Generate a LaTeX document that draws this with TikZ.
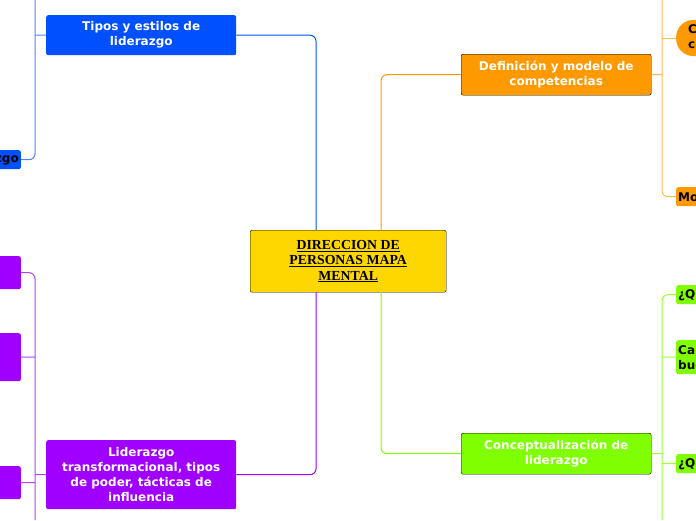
\documentclass[tikz,border=0pt]{standalone}
\usepackage{fontspec}
\usetikzlibrary{shapes.geometric}
\setmainfont{DejaVu Sans}
\newfontfamily\serifc{Liberation Serif}
\newcommand{\myul}[1]{$\underline{\hbox{#1}}$}
\begin{document}
\begin{tikzpicture}[x=1pt,y=-1pt,
 box/.style={rounded corners=2pt,font=\bfseries\fontsize{12}{15}\selectfont,align=center,inner sep=0pt,anchor=north west},
 con/.style={line width=1pt,rounded corners=6pt}]
\useasboundingbox (0,0) rectangle (696,520);
\definecolor{cb}{HTML}{0050FF}\definecolor{cp}{HTML}{A000FF}
\definecolor{co}{HTML}{FF9900}\definecolor{cg}{HTML}{80FF00}
\definecolor{cy}{HTML}{FFD700}
\coordinate (ct) at (316,230); \coordinate (cbt) at (316,292);
\coordinate (crt) at (381,230); \coordinate (crb) at (381,292);
% center
\node[draw=black,fill=cy,rounded corners=2pt,minimum width=196pt,minimum height=62pt,anchor=north west,align=center,inner sep=0pt,font=\serifc\bfseries\fontsize{13.8}{15.5}\selectfont] (c) at (250,230) {\myul{DIRECCION DE}\\\myul{PERSONAS MAPA}\\\myul{MENTAL}};
% main nodes
\node[box,fill=cb,text=white,minimum width=190pt,minimum height=40pt] (t) at (46,15) {Tipos y estilos de\\liderazgo};
\node[box,fill=cp,text=white,minimum width=190pt,minimum height=69pt] (l) at (46,440) {Liderazgo\\transformacional, tipos\\de poder, tácticas de\\influencia};
\node[box,draw=black,fill=co,text=white,minimum width=190pt,minimum height=41pt] (d) at (461,54) {Definición y modelo de\\competencias};
\node[box,draw=black,fill=cg,text=white,minimum width=190pt,minimum height=41pt] (g) at (461,433) {Conceptualización de\\liderazgo};
\draw[con,cb] (t.east) -| (ct);
\draw[con,cp] (l.east) -| (cbt);
\draw[con,co] (d.west) -| (crt);
\draw[con,cg] (g.west) -| (crb);
% left blue children
\node[box,fill=cb,text=black,anchor=north east,minimum height=19pt,text width=90pt,align=right] (b1) at (21,150) {Liderazgo\,};
\draw[con,cb!70] (t.west) -- (35,35);
\draw[con,cb!70] (35,0) |- (b1.east);
% left purple children
\node[box,fill=cp,anchor=north east,minimum width=60pt,minimum height=33pt] (p1) at (21,256) {};
\node[box,fill=cp,anchor=north east,minimum width=60pt,minimum height=48pt] (p2) at (21,333) {};
\node[box,fill=cp,anchor=north east,minimum width=60pt,minimum height=33pt] (p3) at (21,466) {};
\draw[con,cp!75] (l.west) -- (35,474.5);
\draw[con,cp!75] (p1.east) -| (35,520);
\draw[con,cp!75] (p2.east) -- (35,357);
\draw[con,cp!75] (p3.east) -- (35,482.5);
% right orange children
\node[box,fill=co,text=black,rounded corners=17pt,minimum height=36pt,text width=110pt,align=left,anchor=west] (o1) at (676,38) {\hspace*{12pt}Competencias\\\hspace*{12pt}conceptos};
\node[box,fill=co,text=black,minimum height=19pt,text width=90pt,align=left] (o2) at (676,187) {\,Modelo};
\draw[con,co!70] (d.east) -- (662,74.5);
\draw[con,co!70] (662,0) |- (o2.west);
\draw[con,co!70] (662,38) -- (o1.west);
% right green children
\node[box,fill=cg,text=black,minimum height=19pt,text width=90pt,align=left] (g1) at (676,285) {\,¿Qué es?};
\node[box,fill=cg,text=black,minimum height=34pt,text width=90pt,align=left] (g2) at (676,340) {\,Características\\\,buen líder};
\node[box,fill=cg,text=black,minimum height=19pt,text width=90pt,align=left] (g3) at (676,454) {\,¿Quién?};
\draw[con,cg!80] (g.east) -- (662,453.5);
\draw[con,cg!80] (g1.west) -| (662,520);
\draw[con,cg!80] (g2.west) -- (662,357);
\draw[con,cg!80] (g3.west) -- (662,463.5);
\end{tikzpicture}
\end{document}
